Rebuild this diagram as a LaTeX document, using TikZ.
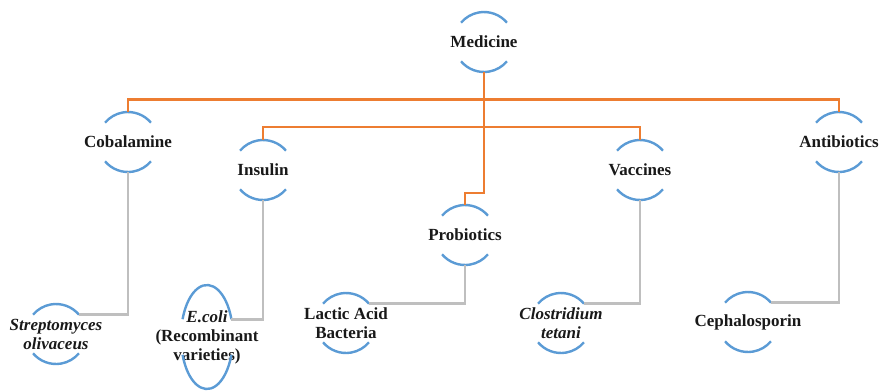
\documentclass[tikz,border=0pt]{standalone}
\usepackage{fontspec}
\setmainfont{Liberation Serif}
\usetikzlibrary{calc}
\definecolor{arcblue}{HTML}{5B9BD5}
\definecolor{lineorange}{HTML}{ED7D31}
\definecolor{linegray}{HTML}{BFBFBF}
\tikzset{
  lbl/.style={font=\bfseries\fontsize{17}{19}\selectfont, align=center, inner sep=0pt, text=black!90},
  arcline/.style={draw=arcblue, line width=2.4pt},
  orgline/.style={draw=lineorange, line width=2.6pt},
  grayline/.style={draw=linegray, line width=2.6pt},
}
\newcommand\bubnode[4]{%
  \node[lbl] (#1) at (#2,#3) {#4};
  \coordinate (#1-t) at ($(#2,#3)+(0,30)$);
  \coordinate (#1-b) at ($(#2,#3)+(0,-30)$);
  \coordinate (#1-e) at ($(#2,#3)+(40:30)$);
  \draw[arcline] ($(#2,#3)+(40:30)$) arc (40:140:30);
  \draw[arcline] ($(#2,#3)+(220:30)$) arc (220:320:30);
}
\begin{document}
\begin{tikzpicture}[x=1pt,y=1pt]
\useasboundingbox (0,0) rectangle (885,-391);
% upper level
\bubnode{med}{484}{-42}{Medicine}
\bubnode{cob}{128}{-142}{Cobalamine}
\bubnode{ins}{263}{-170}{Insulin}
\bubnode{pro}{465}{-235}{Probiotics}
\bubnode{vac}{640}{-170}{Vaccines}
\bubnode{ant}{839}{-142}{Antibiotics}
% leaves
\bubnode{str}{56}{-334}{\itshape Streptomyces\\\itshape olivaceus}
\bubnode{lab}{346}{-323}{Lactic Acid\\Bacteria}
\bubnode{clo}{561}{-323}{\itshape Clostridium\\\itshape tetani}
\bubnode{cep}{748}{-322}{Cephalosporin}
% E.coli (elliptic outline)
\node[lbl] (eco) at (207,-337) {\itshape E.coli\\(Recombinant\\varieties)};
\coordinate (eco-e) at ($(207,-337)+({26*cos(20)},{52*sin(20)})$);
\draw[arcline] (eco-e) arc[start angle=20, end angle=160, x radius=26, y radius=52];
\draw[arcline] ($(207,-337)+({26*cos(200)},{52*sin(200)})$) arc[start angle=200, end angle=340, x radius=26, y radius=52];
% orange connectors
\draw[orgline] (cob-t) -- ++(0,12.5) -| (ant-t);
\draw[orgline] (ins-t) -- ++(0,13) -| (vac-t);
\draw[orgline] (med-b) |- ($(pro-t)+(0,12)$) -- (pro-t);
% gray connectors
\draw[grayline] (cob-b) |- (str-e);
\draw[grayline] (ins-b) |- (eco-e);
\draw[grayline] (pro-b) |- (lab-e);
\draw[grayline] (vac-b) |- (clo-e);
\draw[grayline] (ant-b) |- (cep-e);
\end{tikzpicture}
\end{document}
